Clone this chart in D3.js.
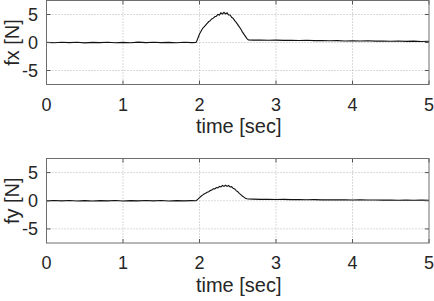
<!DOCTYPE html>
<html lang="en">
<head>
  <meta charset="UTF-8">
  <title>fx / fy vs time</title>
  <script src="https://d3js.org/d3.v7.min.js"></script>
  <style>
    * { margin: 0; padding: 0; box-sizing: border-box; }
    body { background: #fff; }
    svg { display: block; font-family: 'Liberation Sans', Arial, sans-serif; }
  </style>
</head>
<body>
  <svg id="chart" width="434" height="301"></svg>
  <script>
  // sample times [sec]: baseline, hump, tail
  var timeSec = [
    0, 0.1, 0.2, 0.3, 0.4, 0.5, 0.6, 0.7, 0.8, 0.9, 1.0, 1.1, 1.2, 1.3, 1.4, 1.5, 1.6, 1.7, 1.8, 1.9, 1.95,
    1.96, 1.98, 2.00, 2.02, 2.04, 2.06, 2.08, 2.10, 2.12, 2.14, 2.16, 2.18, 2.20, 2.22, 2.24, 2.26, 2.28, 2.30,
    2.32, 2.34, 2.36, 2.38, 2.40, 2.42, 2.44, 2.46, 2.48, 2.50, 2.52, 2.54, 2.56, 2.58, 2.60, 2.62, 2.64,
    2.7, 2.8, 2.9, 3.0, 3.1, 3.2, 3.3, 3.4, 3.5, 3.6, 3.7, 3.8, 3.9, 4.0, 4.1, 4.2, 4.3, 4.4, 4.5, 4.6, 4.7, 4.8, 4.9, 5.0
  ];

  var fxValues = [
    0.02, -0.05, 0.04, -0.03, 0.05, -0.06, 0.03, -0.02, 0.04, -0.05, 0.02, -0.04, 0.06, -0.03, 0.05, -0.02, 0.03, -0.05, 0.04, -0.02, 0.0,
    0.1, 0.8, 1.5, 2.0, 2.5, 2.8, 3.1, 3.4, 3.7, 3.9, 4.2, 4.35, 4.6, 4.7, 5.0, 4.9, 5.3, 5.1,
    5.4, 5.1, 5.3, 4.9, 4.9, 4.5, 4.3, 3.9, 3.6, 3.2, 2.8, 2.4, 1.9, 1.5, 1.1, 0.7, 0.45,
    0.42, 0.45, 0.4, 0.43, 0.38, 0.4, 0.36, 0.39, 0.33, 0.36, 0.3, 0.34, 0.28, 0.32, 0.27, 0.3, 0.24, 0.28, 0.22, 0.27, 0.2, 0.25, 0.19, 0.22
  ];

  var fyValues = [
    -0.03, 0.04, -0.02, 0.05, -0.04, 0.02, -0.05, 0.03, -0.02, 0.04, -0.05, 0.03, -0.03, 0.05, -0.02, 0.04, -0.04, 0.02, -0.03, 0.03, 0.0,
    0.05, 0.3, 0.55, 0.8, 1.0, 1.2, 1.35, 1.5, 1.6, 1.8, 1.9, 2.1, 2.1, 2.35, 2.3, 2.55, 2.45, 2.7,
    2.55, 2.75, 2.55, 2.7, 2.45, 2.5, 2.2, 2.1, 1.8, 1.6, 1.3, 1.1, 0.85, 0.65, 0.45, 0.35, 0.3,
    0.28, 0.25, 0.27, 0.22, 0.24, 0.2, 0.22, 0.18, 0.2, 0.16, 0.18, 0.15, 0.17, 0.13, 0.15, 0.12, 0.14, 0.11, 0.13, 0.1, 0.12, 0.09, 0.11, 0.1
  ];

  var xTicks = [0, 1, 2, 3, 4, 5];
  var yTicks = [-5, 0, 5];

  var svg = d3.select('#chart');
  var left = 46.5, right = 429;

  var x = d3.scaleLinear().domain([0, 5]).range([left, right]);

  function drawPanel(top, bottom, values, label) {
    var y = d3.scaleLinear().domain([-7.5, 7.5]).range([bottom, top]);
    var g = svg.append('g');

    // grid
    g.append('g').selectAll('line.vg')
      .data(xTicks.slice(1, -1))
      .join('line')
      .attr('x1', function(d) { return x(d); }).attr('x2', function(d) { return x(d); })
      .attr('y1', top).attr('y2', bottom)
      .attr('stroke', '#b4b4b4').attr('stroke-width', 1).attr('stroke-dasharray', '1,2');
    g.append('g').selectAll('line.hg')
      .data(yTicks)
      .join('line')
      .attr('x1', left).attr('x2', right)
      .attr('y1', function(d) { return y(d); }).attr('y2', function(d) { return y(d); })
      .attr('stroke', '#b4b4b4').attr('stroke-width', 1).attr('stroke-dasharray', '1,2');

    // data
    var line = d3.line()
      .x(function(d, i) { return x(timeSec[i]); })
      .y(function(d) { return y(d); });
    g.append('path')
      .datum(values)
      .attr('d', line)
      .attr('fill', 'none')
      .attr('stroke', '#111')
      .attr('stroke-width', 1.1);

    // inner ticks (MATLAB style), top/bottom/left/right
    var tickLen = 4;
    var tk = g.append('g').attr('stroke', '#555').attr('stroke-width', 1);
    xTicks.forEach(function(t) {
      tk.append('line').attr('x1', x(t)).attr('x2', x(t)).attr('y1', bottom).attr('y2', bottom - tickLen);
      tk.append('line').attr('x1', x(t)).attr('x2', x(t)).attr('y1', top).attr('y2', top + tickLen);
    });
    yTicks.forEach(function(t) {
      tk.append('line').attr('x1', left).attr('x2', left + tickLen).attr('y1', y(t)).attr('y2', y(t));
      tk.append('line').attr('x1', right).attr('x2', right - tickLen).attr('y1', y(t)).attr('y2', y(t));
    });

    // box
    g.append('rect')
      .attr('x', left).attr('y', top)
      .attr('width', right - left).attr('height', bottom - top)
      .attr('fill', 'none').attr('stroke', '#6e6e6e').attr('stroke-width', 1);

    // tick labels
    g.append('g').selectAll('text')
      .data(xTicks)
      .join('text')
      .attr('x', function(d) { return x(d); })
      .attr('y', bottom + 26)
      .attr('text-anchor', 'middle')
      .attr('font-size', '18px')
      .attr('fill', '#262626')
      .text(function(d) { return d; });
    g.append('g').selectAll('text')
      .data(yTicks)
      .join('text')
      .attr('x', left - 8.5)
      .attr('y', function(d) { return y(d) + 6.5; })
      .attr('text-anchor', 'end')
      .attr('font-size', '18px')
      .attr('fill', '#262626')
      .text(function(d) { return d; });

    // axis labels
    g.append('text')
      .attr('x', x(2.5) + 1)
      .attr('y', bottom + 48.5)
      .attr('text-anchor', 'middle')
      .attr('font-size', '20px')
      .attr('fill', '#262626')
      .text('time [sec]');
    g.append('text')
      .attr('transform', 'translate(18.5,' + ((top + bottom) / 2) + ') rotate(-90)')
      .attr('text-anchor', 'middle')
      .attr('font-size', '20px')
      .attr('fill', '#262626')
      .text(label);
  }

  drawPanel(0.5, 84.5, fxValues, 'fx [N]');
  drawPanel(158.5, 243, fyValues, 'fy [N]');
  </script>
</body>
</html>
